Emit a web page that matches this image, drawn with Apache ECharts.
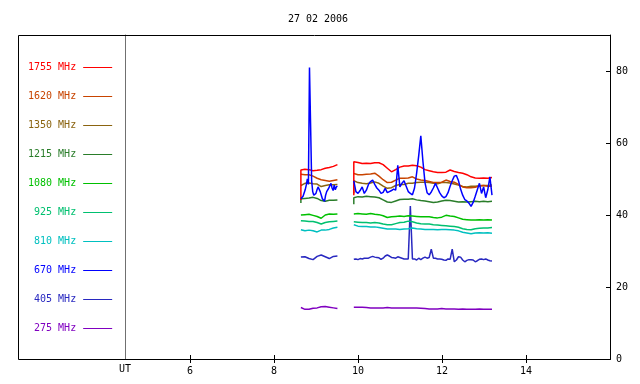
<!DOCTYPE html>
<html><head><meta charset="utf-8">
<script src="https://cdn.jsdelivr.net/npm/echarts@6/dist/echarts.min.js"></script>
<style>html,body{margin:0;padding:0;background:#fff}#c{width:640px;height:384px}</style>
</head><body><div id="c"></div>
<script>
const chartTitle = '27 02 2006';
const axisName = 'UT';
const xTicks = [6, 8, 10, 12, 14];
const yTicks = [0, 20, 40, 60, 80];
const xRange = [4.452, 16];
const yRange = [0, 90];
const seg1Range = [8.64, 9.51];
const seg2Range = [9.90, 13.19];

const legendNames = ['1755 MHz','1620 MHz','1350 MHz','1215 MHz','1080 MHz','925 MHz','810 MHz','670 MHz','405 MHz','275 MHz'];
const colors = ['#ff0000','#c84400','#8b6410','#2a7d2a','#00c000','#00c070','#00c0c0','#0000ff','#2828c0','#8000c0'];

// values per frequency: seg1 (about 8.6-9.5 UT), seg2 (about 9.9-13.2 UT), lead = first sample of each segment
const f1755_a = [52.5, 52.7, 52.6, 52.3, 52.4, 52.6, 53.0, 53.2, 53.5, 54.0];
const f1755_b = [54.8, 54.6, 54.3, 54.4, 54.3, 54.5, 54.5, 54.0, 53.0, 52.0, 52.6, 53.3, 53.6, 53.6, 53.8, 53.7, 53.3, 52.6, 52.3, 52.0, 51.8, 51.8, 51.9, 52.5, 52.1, 51.8, 51.6, 51.2, 50.6, 50.3, 50.2, 50.3, 50.2, 50.4];
const f1755_lead = [44.2, 45.5];

const f1620_a = [51.3, 51.2, 51.2, 50.8, 50.2, 49.8, 49.6, 49.4, 49.6, 49.8];
const f1620_b = [51.5, 51.2, 51.2, 51.3, 51.4, 51.6, 50.8, 49.8, 49.0, 49.1, 49.7, 50.2, 50.2, 50.3, 50.6, 50.0, 49.7, 49.6, 49.3, 49.0, 49.0, 49.1, 49.7, 49.3, 49.1, 48.5, 47.8, 47.6, 47.6, 47.7, 48.1, 48.2, 48.0, 48.0];
const f1620_lead = [null, null];

const f1350_a = [48.2, 48.8, 48.9, 48.7, 48.6, 47.9, 48.2, 48.4, 48.4, 48.5];
const f1350_b = [49.5, 49.0, 48.8, 48.7, 48.9, 49.2, 48.8, 48.0, 47.4, 47.6, 48.2, 48.5, 48.5, 48.8, 48.8, 49.0, 49.1, 49.1, 49.0, 48.8, 48.7, 49.0, 49.0, 48.9, 48.6, 48.3, 47.9, 47.8, 48.0, 48.0, 48.1, 48.2, 48.2, 48.3];
const f1350_lead = [null, 46.0];

const f1215_a = [44.5, 44.6, 44.7, 44.9, 44.6, 44.0, 43.8, 44.1, 44.1, 44.2];
const f1215_b = [44.8, 45.1, 45.0, 45.2, 45.1, 45.0, 44.8, 44.2, 43.6, 43.5, 43.9, 44.3, 44.4, 44.4, 44.5, 44.2, 44.0, 43.9, 43.7, 43.5, 43.6, 43.9, 44.1, 44.0, 43.8, 43.6, 43.7, 43.6, 43.7, 43.8, 43.7, 43.8, 43.7, 43.8];
const f1215_lead = [43.3, 43.0];

const f1080_a = [40.0, 40.1, 40.2, 39.9, 39.6, 39.1, 40.0, 40.3, 40.2, 40.3];
const f1080_b = [40.3, 40.4, 40.3, 40.2, 40.4, 40.2, 40.1, 39.8, 39.3, 39.5, 39.6, 39.7, 39.6, 39.8, 39.7, 39.6, 39.5, 39.5, 39.5, 39.3, 39.2, 39.4, 39.9, 39.7, 39.6, 39.2, 38.8, 38.7, 38.6, 38.6, 38.7, 38.6, 38.7, 38.6];
const f1080_lead = [null, null];

const f925_a = [38.4, 38.3, 38.2, 38.2, 37.9, 37.5, 37.9, 38.1, 38.2, 38.3];
const f925_b = [38.1, 38.0, 37.9, 37.9, 37.8, 37.9, 37.8, 37.5, 37.3, 37.3, 37.6, 37.9, 38.0, 38.3, 38.1, 37.8, 37.6, 37.5, 37.5, 37.3, 37.2, 37.1, 37.0, 36.9, 36.8, 36.6, 36.2, 36.0, 35.9, 36.2, 36.3, 36.4, 36.4, 36.5];
const f925_lead = [null, null];

const f810_a = [35.9, 35.6, 35.8, 35.6, 35.3, 35.8, 35.8, 36.0, 36.4, 36.6];
const f810_b = [37.3, 36.9, 36.8, 36.8, 36.7, 36.7, 36.5, 36.3, 36.1, 36.1, 36.1, 36.0, 36.1, 36.2, 36.4, 36.2, 36.1, 36.0, 36.0, 36.0, 35.9, 36.0, 36.0, 35.9, 35.8, 35.6, 35.2, 35.0, 34.8, 35.0, 35.1, 35.0, 35.1, 34.9];
const f810_lead = [null, null];

const f670_a = [44.5, 44.0, 45.2, 44.8, 47.0, 48.3, 50.0, 48.5, 81.0, 65.5, 49.5, 46.5, 45.5, 45.0, 46.0, 47.0, 47.8, 47.3, 46.5, 45.5, 44.5, 44.0, 43.8, 45.5, 46.5, 47.0, 47.5, 48.2, 48.8, 47.5, 46.8, 48.3, 47.0, 47.8, 48.0];
const f670_b = [49.5, 46.5, 46.0, 46.8, 47.8, 46.0, 46.9, 48.5, 49.3, 49.7, 48.5, 47.5, 46.9, 46.0, 46.3, 47.4, 46.2, 46.5, 46.8, 47.2, 46.9, 53.8, 47.8, 48.8, 49.5, 48.0, 46.5, 46.0, 45.6, 47.5, 51.6, 56.5, 62.0, 55.0, 49.0, 46.2, 45.6, 46.4, 47.5, 48.8, 47.5, 46.2, 45.3, 44.8, 45.1, 46.2, 48.0, 49.5, 50.8, 51.0, 49.5, 47.2, 45.5, 44.3, 43.9, 43.3, 42.4, 43.5, 45.2, 47.0, 48.8, 46.0, 47.8, 44.8, 47.0, 50.6, 45.5];
const f670_lead = [null, null];

const f405_a = [28.3, 28.4, 27.9, 27.6, 28.5, 28.9, 28.4, 27.9, 28.5, 28.6];
const f405_b = [27.7, 27.8, 27.6, 27.9, 27.8, 28.0, 28.0, 28.0, 28.3, 28.5, 28.3, 28.2, 28.1, 27.7, 28.0, 28.6, 28.9, 28.6, 28.2, 28.1, 28.0, 28.4, 28.2, 28.0, 27.8, 27.8, 27.8, 42.5, 27.8, 27.8, 27.5, 28.0, 27.6, 28.0, 28.3, 28.0, 28.2, 30.5, 28.0, 28.0, 27.8, 27.8, 27.7, 27.5, 27.4, 27.8, 27.7, 30.5, 27.0, 27.5, 28.4, 28.3, 27.5, 27.0, 27.4, 27.6, 27.6, 27.5, 27.0, 27.3, 27.7, 27.8, 27.6, 27.8, 27.5, 27.3, 27.2];
const f405_lead = [null, null];

const f275_a = [14.3, 13.8, 13.8, 14.1, 14.2, 14.5, 14.6, 14.4, 14.2, 14.0];
const f275_b = [14.4, 14.4, 14.4, 14.3, 14.2, 14.2, 14.2, 14.2, 14.3, 14.2, 14.2, 14.2, 14.2, 14.2, 14.2, 14.2, 14.1, 14.0, 13.9, 13.9, 13.9, 14.0, 13.9, 13.9, 13.9, 13.8, 13.9, 13.8, 13.8, 13.8, 13.9, 13.8, 13.8, 13.8];
const f275_lead = [null, null];

const seriesData = {
  '1755 MHz': [f1755_a, f1755_b, f1755_lead],
  '1620 MHz': [f1620_a, f1620_b, f1620_lead],
  '1350 MHz': [f1350_a, f1350_b, f1350_lead],
  '1215 MHz': [f1215_a, f1215_b, f1215_lead],
  '1080 MHz': [f1080_a, f1080_b, f1080_lead],
  '925 MHz': [f925_a, f925_b, f925_lead],
  '810 MHz': [f810_a, f810_b, f810_lead],
  '670 MHz': [f670_a, f670_b, f670_lead],
  '405 MHz': [f405_a, f405_b, f405_lead],
  '275 MHz': [f275_a, f275_b, f275_lead]
};

function segPoints(vals, range, lead) {
  const out = [];
  if (lead != null) out.push([range[0], lead]);
  const step = (range[1] - range[0]) / (vals.length - 1);
  vals.forEach((v, i) => out.push([range[0] + i * step, v]));
  return out;
}
function buildPoints(a, b, lead) {
  return segPoints(a, seg1Range, lead[0])
    .concat([[(seg1Range[1] + seg2Range[0]) / 2, '-']])
    .concat(segPoints(b, seg2Range, lead[1]));
}

const drawOrder = ['275 MHz','405 MHz','810 MHz','925 MHz','1080 MHz','1215 MHz','1350 MHz','1620 MHz','1755 MHz','670 MHz'];
const mono = 'DejaVu Sans Mono';

const series = drawOrder.map(name => {
  const d = seriesData[name];
  const c = colors[legendNames.indexOf(name)];
  return {
    name: name, type: 'line', symbol: 'none', showSymbol: false,
    connectNulls: false, animation: false,
    color: c,
    lineStyle: { color: c, width: 1.5 },
    data: buildPoints(d[0], d[1], d[2])
  };
});

const chart = echarts.init(document.getElementById('c'), null, { renderer: 'canvas' });
chart.setOption({
  animation: false,
  backgroundColor: '#ffffff',
  title: {
    text: chartTitle, left: 313, top: 9, textAlign: 'center',
    textStyle: { fontFamily: mono, fontSize: 10, fontWeight: 'normal', color: '#000' }
  },
  grid: { left: 125, right: 30, top: 35, bottom: 25 },
  legend: {
    orient: 'vertical', left: 28, top: 61.5, padding: 0,
    align: 'right', icon: 'rect', itemWidth: 29, itemHeight: 1, itemGap: 17,
    selectedMode: false,
    textStyle: { fontFamily: mono, fontSize: 10, lineHeight: 12, padding: [0, 2, 0, 0] },
    data: legendNames.map((n, i) => ({ name: n, textStyle: { color: colors[i] } }))
  },
  graphic: [{
    type: 'rect', z: 100, silent: true,
    shape: { x: 18.5, y: 35.5, width: 592, height: 324 },
    style: { fill: 'none', stroke: '#000', lineWidth: 1 }
  }],
  xAxis: [{
    type: 'value', min: xRange[0], max: xRange[1], position: 'bottom',
    axisLine: { show: true, lineStyle: { color: '#000', width: 1 } },
    axisTick: { show: true, inside: true, length: 4, customValues: xTicks, lineStyle: { color: '#000' } },
    axisLabel: { customValues: xTicks, margin: 7, fontFamily: mono, fontSize: 10, color: '#000' },
    splitLine: { show: false },
    name: axisName, nameLocation: 'start', nameGap: 0,
    nameTextStyle: { fontFamily: mono, fontSize: 10, color: '#000', align: 'center', verticalAlign: 'top', padding: [5, 0, 0, 0] }
  }, {
    type: 'value', min: xRange[0], max: xRange[1], position: 'top',
    axisLine: { show: true, lineStyle: { color: '#000', width: 1 } },
    axisTick: { show: true, inside: true, length: 4, customValues: xTicks, lineStyle: { color: '#000' } },
    axisLabel: { show: false },
    splitLine: { show: false }
  }],
  yAxis: [{
    type: 'value', min: yRange[0], max: yRange[1], position: 'right',
    axisLine: { show: true, lineStyle: { color: '#000', width: 1 } },
    axisTick: { show: true, inside: true, length: 4, customValues: yTicks, lineStyle: { color: '#000' } },
    axisLabel: { customValues: yTicks, margin: 6, fontFamily: mono, fontSize: 10, color: '#000' },
    splitLine: { show: false }
  }, {
    type: 'value', min: yRange[0], max: yRange[1], position: 'left',
    axisLine: { show: true, lineStyle: { color: '#707070', width: 1 } },
    axisTick: { show: false }, axisLabel: { show: false }, splitLine: { show: false }
  }],
  series: series
});
</script>
</body></html>
